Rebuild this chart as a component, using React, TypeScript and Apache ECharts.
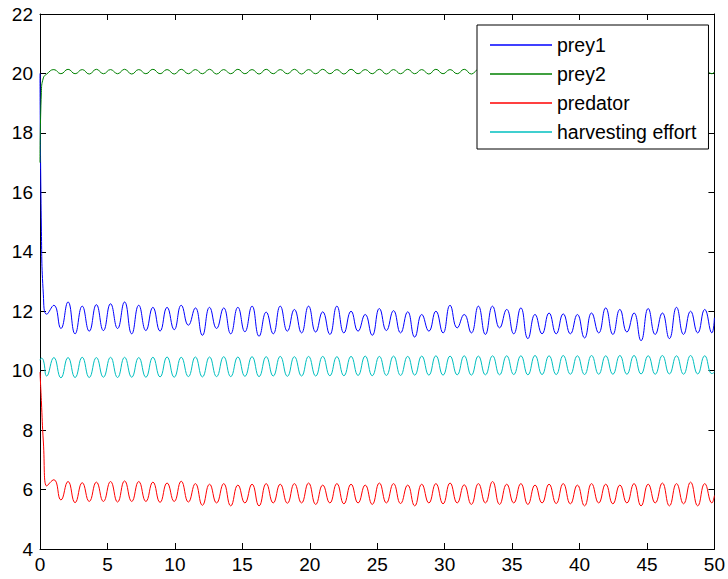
import React, { useEffect, useRef } from "react";
import * as echarts from "echarts";

// time points (turning points of the oscillations)
const timeGrid = [
  0, 0.1, 0.25, 0.5, 1.03, 1.55, 2.08, 2.6, 3.13, 3.65,
  4.18, 4.7, 5.23, 5.75, 6.27, 6.8, 7.32, 7.85, 8.37, 8.9,
  9.42, 9.95, 10.47, 11.0, 11.52, 12.04, 12.57, 13.09, 13.62, 14.14,
  14.67, 15.19, 15.72, 16.24, 16.77, 17.29, 17.81, 18.34, 18.86, 19.39,
  19.91, 20.44, 20.96, 21.49, 22.01, 22.53, 23.06, 23.58, 24.11, 24.63,
  25.16, 25.68, 26.21, 26.73, 27.26, 27.78, 28.3, 28.83, 29.35, 29.88,
  30.4, 30.93, 31.45, 31.98, 32.5, 33.02, 33.55, 34.07, 34.6, 35.12,
  35.65, 36.17, 36.7, 37.22, 37.74, 38.27, 38.79, 39.32, 39.84, 40.37,
  40.89, 41.42, 41.94, 42.47, 42.99, 43.51, 44.04, 44.56, 45.09, 45.61,
  46.14, 46.66, 47.19, 47.71, 48.23, 48.76, 49.28, 49.81, 50,
];

const prey1 = [
  20, 14.9, 12.55, 11.9, 12.2, 11.42, 12.31, 11.24, 12.17, 11.33,
  12.22, 11.35, 12.25, 11.42, 12.31, 11.24, 12.2, 11.35, 12.13, 11.33,
  12.13, 11.38, 12.2, 11.53, 12.11, 11.19, 12.13, 11.42, 12.11, 11.24,
  12.13, 11.31, 12.17, 11.16, 11.97, 11.24, 12.17, 11.33, 12.06, 11.27,
  12.17, 11.3, 11.98, 11.22, 12.17, 11.27, 12.0, 11.33, 11.89, 11.19,
  12.09, 11.35, 12.02, 11.27, 11.98, 11.13, 11.89, 11.33, 12.0, 11.27,
  12.2, 11.44, 11.89, 11.27, 12.17, 11.22, 12.17, 11.44, 12.06, 11.24,
  12.11, 11.08, 11.89, 11.24, 11.94, 11.24, 11.91, 11.24, 11.89, 11.1,
  11.94, 11.27, 12.11, 11.22, 12.06, 11.3, 11.94, 11.01, 12.09, 11.22,
  11.94, 11.08, 12.13, 11.22, 12.0, 11.27, 12.06, 11.27, 11.78,
];

const prey2 = [
  17.0, 19.35, 19.85, 19.98, 20.13, 19.99, 20.14, 19.99, 20.13, 19.98,
  20.14, 19.99, 20.13, 19.99, 20.14, 19.98, 20.13, 19.99, 20.14, 19.99,
  20.13, 19.98, 20.14, 19.99, 20.13, 19.99, 20.14, 19.98, 20.13, 19.99,
  20.14, 19.99, 20.13, 19.98, 20.14, 19.99, 20.13, 19.99, 20.14, 19.98,
  20.13, 19.99, 20.14, 19.99, 20.13, 19.98, 20.14, 19.99, 20.13, 19.99,
  20.14, 19.98, 20.13, 19.99, 20.14, 19.99, 20.13, 19.98, 20.14, 19.99,
  20.13, 19.99, 20.14, 19.98, 20.13, 19.99, 20.14, 19.99, 20.13, 19.98,
  20.14, 19.99, 20.13, 19.99, 20.14, 19.98, 20.13, 19.99, 20.14, 19.99,
  20.13, 19.98, 20.14, 19.99, 20.13, 19.99, 20.14, 19.98, 20.13, 19.99,
  20.14, 19.99, 20.13, 19.99, 20.14, 19.98, 20.13, 19.99, 20.05,
];

const predator = [
  9.95, 9.0, 7.6, 6.12, 6.33, 5.65, 6.27, 5.56, 6.23, 5.6,
  6.25, 5.6, 6.27, 5.58, 6.29, 5.6, 6.27, 5.6, 6.25, 5.57,
  6.22, 5.6, 6.28, 5.58, 6.2, 5.47, 6.18, 5.55, 6.2, 5.45,
  6.15, 5.55, 6.18, 5.45, 6.2, 5.55, 6.18, 5.54, 6.2, 5.55,
  6.22, 5.5, 6.15, 5.55, 6.2, 5.52, 6.18, 5.55, 6.15, 5.5,
  6.22, 5.55, 6.2, 5.53, 6.15, 5.45, 6.18, 5.55, 6.2, 5.52,
  6.22, 5.55, 6.16, 5.5, 6.2, 5.55, 6.27, 5.5, 6.18, 5.55,
  6.2, 5.5, 6.15, 5.55, 6.18, 5.53, 6.2, 5.52, 6.15, 5.45,
  6.2, 5.55, 6.18, 5.52, 6.15, 5.55, 6.2, 5.45, 6.18, 5.55,
  6.22, 5.45, 6.2, 5.52, 6.25, 5.45, 6.2, 5.55, 5.8,
];

const harvestingEffort = [
  10.35, 10.42, 10.35, 9.82, 10.44, 9.76, 10.44, 9.77, 10.45, 9.77,
  10.44, 9.78, 10.45, 9.77, 10.45, 9.78, 10.44, 9.78, 10.45, 9.79,
  10.46, 9.78, 10.45, 9.8, 10.46, 9.79, 10.46, 9.8, 10.47, 9.8,
  10.46, 9.81, 10.47, 9.8, 10.47, 9.82, 10.48, 9.81, 10.47, 9.82,
  10.48, 9.82, 10.48, 9.83, 10.47, 9.83, 10.48, 9.84, 10.49, 9.83,
  10.48, 9.84, 10.49, 9.84, 10.48, 9.85, 10.49, 9.85, 10.5, 9.85,
  10.49, 9.86, 10.5, 9.85, 10.49, 9.86, 10.5, 9.86, 10.5, 9.87,
  10.5, 9.86, 10.51, 9.87, 10.5, 9.87, 10.51, 9.88, 10.5, 9.87,
  10.51, 9.88, 10.5, 9.88, 10.51, 9.88, 10.51, 9.89, 10.5, 9.88,
  10.51, 9.89, 10.5, 9.88, 10.51, 9.89, 10.5, 9.9, 9.95,
];

const seriesNames = ["prey1", "prey2", "predator", "harvesting effort"];
const seriesColors = ["#0000ff", "#008000", "#ff0000", "#00bfbf"];
const seriesValues = [prey1, prey2, predator, harvestingEffort];

const FONT = "'Liberation Sans', Arial, Helvetica, sans-serif";

export default function App() {
  const ref = useRef<HTMLDivElement>(null);

  useEffect(() => {
    if (!ref.current) return;
    const chart = echarts.init(ref.current, null, { renderer: "svg" });

    const axisLine = { show: true, onZero: false, lineStyle: { color: "#000", width: 1 } };
    const axisTick = { show: true, inside: true, length: 6, lineStyle: { color: "#000", width: 1 } };

    const option = {
      animation: false,
      backgroundColor: "#ffffff",
      textStyle: { fontFamily: FONT },
      grid: { left: 40, right: 13, top: 14, bottom: 30 },
      legend: {
        orient: "vertical",
        left: 477,
        top: 25,
        data: seriesNames,
        icon: "rect",
        backgroundColor: "#ffffff",
        borderColor: "#000000",
        borderWidth: 1,
        borderRadius: 0,
        padding: [10, 12, 7, 13],
        itemGap: 9,
        itemWidth: 62,
        itemHeight: 1.5,
        textStyle: { fontSize: 19.5, color: "#000", fontFamily: FONT, lineHeight: 19 },
      },
      xAxis: [
        {
          type: "value",
          min: 0,
          max: 50,
          interval: 5,
          position: "bottom",
          axisLine,
          axisTick,
          axisLabel: { color: "#000", fontSize: 19, margin: 6, fontFamily: FONT },
          splitLine: { show: false },
        },
        {
          type: "value",
          min: 0,
          max: 50,
          interval: 5,
          position: "top",
          axisLine,
          axisTick,
          axisLabel: { show: false },
          splitLine: { show: false },
        },
      ],
      yAxis: [
        {
          type: "value",
          min: 4,
          max: 22,
          interval: 2,
          position: "left",
          axisLine,
          axisTick,
          axisLabel: { color: "#000", fontSize: 19, margin: 7, fontFamily: FONT },
          splitLine: { show: false },
        },
        {
          type: "value",
          min: 4,
          max: 22,
          interval: 2,
          position: "right",
          axisLine,
          axisTick,
          axisLabel: { show: false },
          splitLine: { show: false },
        },
      ],
      series: seriesNames.map((name, s) => ({
        name,
        type: "line",
        xAxisIndex: 0,
        yAxisIndex: 0,
        symbol: "none",
        showSymbol: false,
        smooth: 0.5,
        color: seriesColors[s],
        itemStyle: { color: seriesColors[s] },
        lineStyle: { color: seriesColors[s], width: 1 },
        data: timeGrid.map((t, i) => [t, seriesValues[s][i]]),
      })),
    };

    chart.setOption(option as any);
    return () => chart.dispose();
  }, []);

  return (
    <div
      ref={ref}
      style={{ position: "absolute", left: 0, top: 0, width: 728, height: 579, background: "#fff" }}
    />
  );
}
